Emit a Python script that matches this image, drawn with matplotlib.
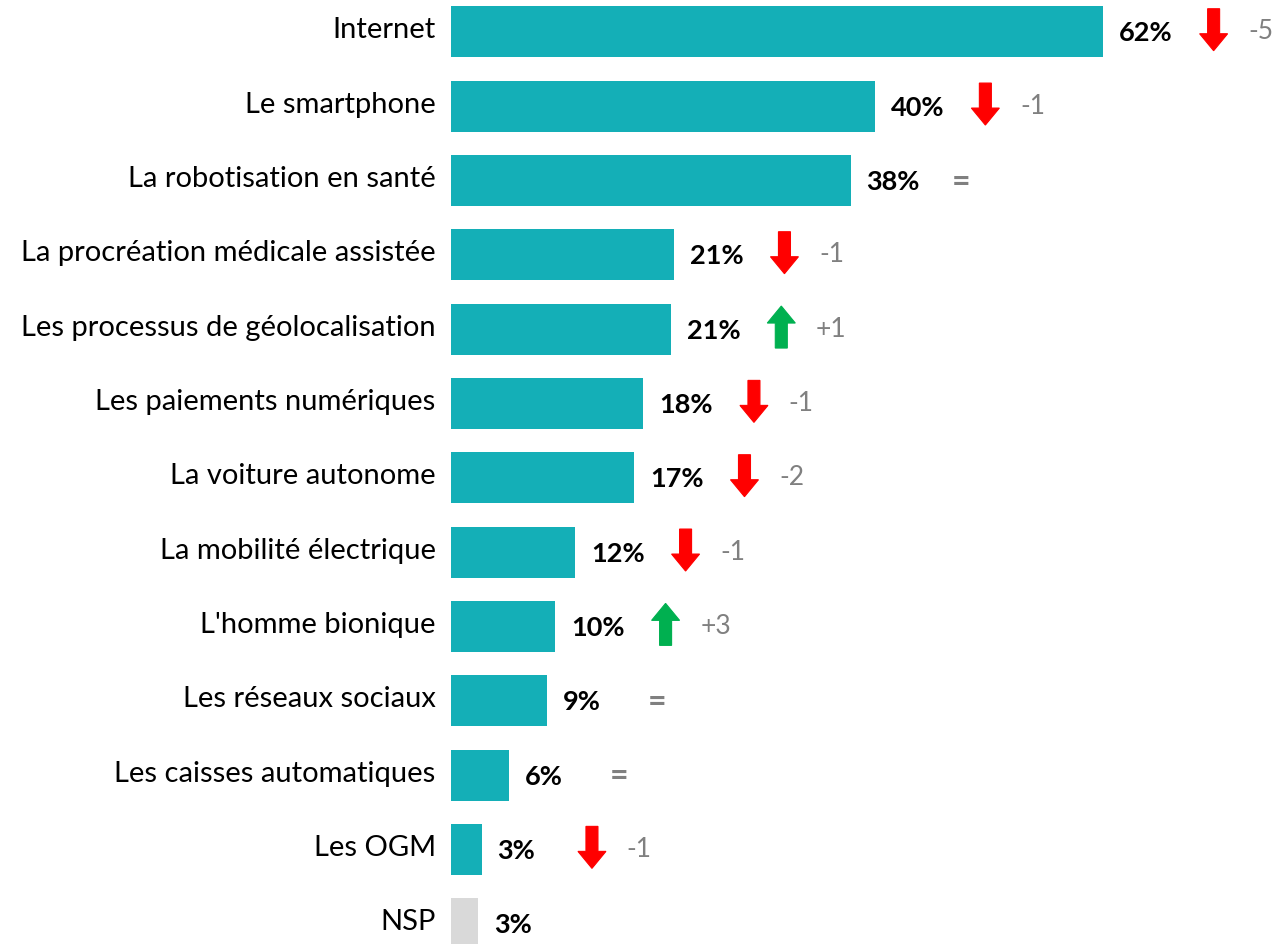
import matplotlib.pyplot as plt
from matplotlib.patches import Polygon
from matplotlib.transforms import ScaledTranslation

categories = ["Internet", "Le smartphone", "La robotisation en santé",
              "La procréation médicale assistée", "Les processus de géolocalisation",
              "Les paiements numériques", "La voiture autonome", "La mobilité électrique",
              "L'homme bionique", "Les réseaux sociaux", "Les caisses automatiques",
              "Les OGM", "NSP"]
values = [62.0, 40.3, 38.0, 21.2, 20.9, 18.3, 17.4, 11.8, 9.9, 9.1, 5.5, 2.9, 2.6]
labels = ["62%", "40%", "38%", "21%", "21%", "18%", "17%", "12%", "10%", "9%", "6%", "3%", "3%"]
changes = ["-5", "-1", "=", "-1", "+1", "-1", "-2", "-1", "+3", "=", "=", "-1", None]

TEAL = "#14AFB7"
GREY_BAR = "#D9D9D9"
GREY_TXT = "#808080"
RED = "#FF0000"
GREEN = "#00B050"

plt.rcParams['font.family'] = ['Lato', 'DejaVu Sans']

fig = plt.figure(figsize=(12.82, 9.44), dpi=100)
ax = fig.add_axes([451 / 1282, 0, 831 / 1282, 1])

colors = [TEAL] * (len(values) - 1) + [GREY_BAR]
ypos = list(range(len(values)))
ax.barh(ypos, values, height=0.686, color=colors)

ax.set_xlim(0, 79.0)
ax.set_ylim(12.27, -0.43)
ax.set_yticks(ypos)
ax.set_yticklabels(categories, fontsize=21)
ax.tick_params(axis='y', length=0, pad=11)
ax.set_xticks([])
for s in ax.spines.values():
    s.set_visible(False)
# category labels sit a little above the bar centre
for lbl in ax.get_yticklabels():
    lbl.set_transform(lbl.get_transform() + ScaledTranslation(0, 0.04, fig.dpi_scale_trans))


def arrow(x, y, up, color):
    # block arrow, shape in inches around its centre
    hw, sw, h, hl = 0.14, 0.06, 0.21, 0.17
    if up:
        pts = [(-sw, -h), (sw, -h), (sw, h - hl), (hw, h - hl), (0, h),
               (-hw, h - hl), (-sw, h - hl)]
    else:
        pts = [(-sw, h), (sw, h), (sw, -h + hl), (hw, -h + hl), (0, -h),
               (-hw, -h + hl), (-sw, -h + hl)]
    tr = fig.dpi_scale_trans + ScaledTranslation(x, y, ax.transData)
    ax.add_patch(Polygon(pts, closed=True, facecolor=color, edgecolor=color,
                         lw=0.8, transform=tr, clip_on=False))


for i, (v, lab, ch) in enumerate(zip(values, labels, changes)):
    ax.text(v + 1.5, i + 0.02, lab, fontsize=19.5, fontweight='bold', va='center', ha='left')
    if ch is None:
        continue
    xa = v + 10.5
    if ch == "=":
        ax.text(xa, i + 0.02, "=", fontsize=23, fontweight='bold', color=GREY_TXT,
                va='center', ha='center')
        continue
    arrow(xa, i - 0.03, ch.startswith("+"), GREEN if ch.startswith("+") else RED)
    ax.text(xa + 3.3, i, ch, fontsize=19, color=GREY_TXT, va='center', ha='left')

fig.savefig("out.png", dpi=100)
plt.close("all")
